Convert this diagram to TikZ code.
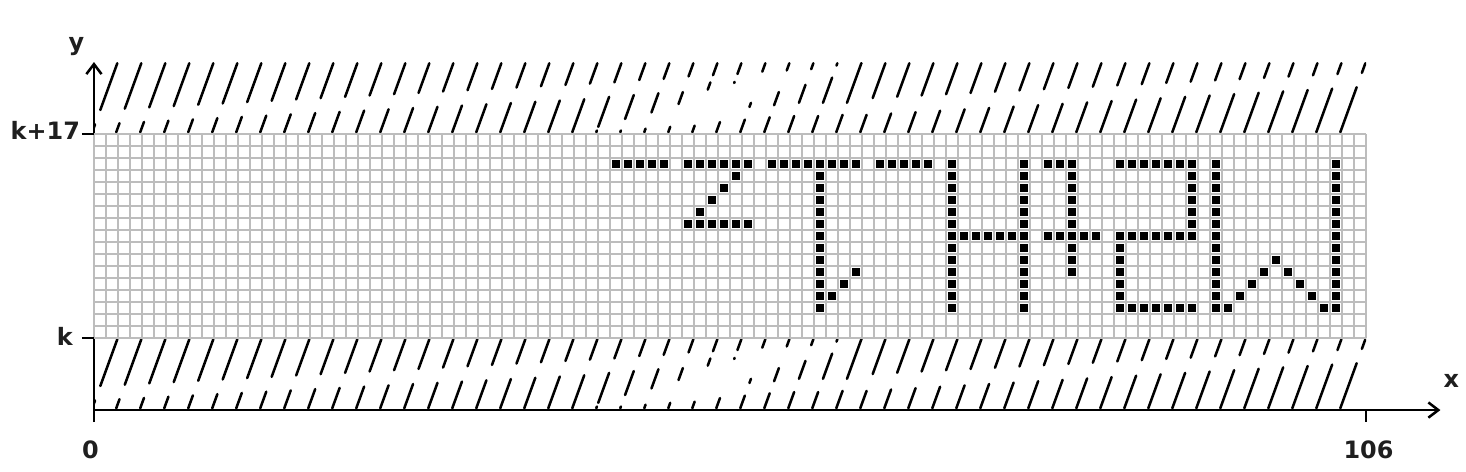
\documentclass[tikz,border=0pt]{standalone}
\usepackage{fontspec}
\setmainfont{DejaVu Sans}
\usetikzlibrary{arrows.meta}

% one stroke of the hatching: line #1, band starting at y=#2, from t=#3 to t=#4
\newcommand{\hatchseg}[4]{%
  \draw[hatch] ({2*#1-0.2+#3/2.75},{#2+#3}) -- ({2*#1-0.2+#4/2.75},{#2+#4});}

\begin{document}
\begin{tikzpicture}[
      x=0.3cm, y=0.3cm,
      pix/.style={fill=black},
      gridline/.style={draw=black!26, line width=1.3pt},
      hatch/.style={line width=1.8pt, line cap=round},
      axis/.style={line width=1.8pt, -{Straight Barb[length=2.5mm,width=3.8mm]}},
      tick/.style={line width=1.8pt},
      lbl/.style={font=\fontsize{17}{20}\selectfont\bfseries,
                  text=black!88, inner sep=0pt}
    ]
      \useasboundingbox (-7.83,-5.08) rectangle (114.33,34.17);

      % hatched bands below k and above k+17
      \foreach \yb in {0,23} {
        \begin{scope}
          \clip (0,\yb) rectangle (106,\yb+6);
          \foreach \n in {0,...,20} {
            \pgfmathsetmacro{\ta}{0.8+0.105*\n}
            \pgfmathsetmacro{\tb}{2.0+0.11*\n}
            \hatchseg{\n}{\yb}{0.15}{\ta}
            \hatchseg{\n}{\yb}{\tb}{5.9}
          }
          \foreach \n/\c/\d/\e/\f in {21/0.3/0.6/3.1/4.3, 22/0.3/1.25/3.25/4.5,
              23/0.45/1.8/3.4/4.6, 24/0.6/2.5/3.5/4.8, 25/0.7/3.7/4.3/4.9,
              26/1.0/4.25/4.35/5.0, 27/1.2/2.25/2.6/5.2, 28/1.4/2.4/3.5/5.3,
              29/1.5/2.6/4.1/5.4, 30/1.5/2.6/4.7/5.7, 31/1.6/2.6/5.9/5.9} {
            \hatchseg{\n}{\yb}{0.15}{\c}
            \hatchseg{\n}{\yb}{\d}{\e}
            \hatchseg{\n}{\yb}{\f}{5.9}
          }
          \foreach \n in {32,...,52} {
            \pgfmathsetmacro{\ta}{1.6+0.115*(\n-32)}
            \pgfmathsetmacro{\tb}{3.0+0.105*(\n-32)}
            \hatchseg{\n}{\yb}{0.15}{\ta}
            \hatchseg{\n}{\yb}{\tb}{5.9}
          }
        \end{scope}
      }

      % axes
      \coordinate (O) at (0,0);
      \coordinate (xend) at (112.2,0);
      \coordinate (ybot) at (0,-1);
      \coordinate (yend) at (0,29);
      \draw[axis] (O) -- (xend);
      \draw[axis] (ybot) -- (yend);

      % grid of 106 x 17 cells
      \fill[white] (0,6) rectangle (106,23);
      \draw[gridline, step=1] (0,6) grid (106,23);

      % black cells: horizontal runs (row/from/to), rows counted from the top
      \foreach \r/\a/\b in {2/43/47, 2/49/54, 2/56/63, 2/65/69, 2/79/81, 2/85/91,
                            7/49/54, 8/71/77, 8/79/83, 8/85/91, 14/85/91,
                            14/93/94, 14/102/103} {
        \foreach \c in {\a,...,\b} {
          \fill[pix] (\c+0.15,22.15-\r) rectangle +(0.7,0.7);
        }
      }
      % vertical runs (column/from/to)
      \foreach \c/\a/\b in {60/2/14, 71/2/14, 77/2/14, 81/2/11, 91/2/8,
                            85/8/14, 93/2/14, 103/2/14} {
        \foreach \r in {\a,...,\b} {
          \fill[pix] (\c+0.15,22.15-\r) rectangle +(0.7,0.7);
        }
      }
      % diagonals
      \foreach \c/\r in {53/3, 52/4, 51/5, 50/6, 63/11, 62/12, 61/13,
                         95/13, 96/12, 97/11, 98/10, 99/11, 100/12, 101/13} {
        \fill[pix] (\c+0.15,22.15-\r) rectangle +(0.7,0.7);
      }

      % ticks
      \coordinate (k0) at (-1,6);
      \coordinate (k1) at (0,6);
      \coordinate (kk0) at (-1,23);
      \coordinate (kk1) at (0,23);
      \coordinate (w0) at (106,0);
      \coordinate (w1) at (106,-1);
      \draw[tick] (k0) -- (k1);
      \draw[tick] (kk0) -- (kk1);
      \draw[tick] (w0) -- (w1);

      % labels
      \node[lbl, anchor=base] (ylab) at (-1.46,30.0) {y};
      \node[lbl, anchor=base] (xlab) at (113.1,1.92) {x};
      \node[lbl, anchor=base east] (klab) at (-1.75,5.42) {k};
      \node[lbl, anchor=base east] (kklab) at (-1.15,22.58) {k+17};
      \node[lbl, anchor=base] (zlab) at (-0.3,-4.0) {0};
      \node[lbl, anchor=base] (wlab) at (106.2,-4.0) {106};
    \end{tikzpicture}
\end{document}
